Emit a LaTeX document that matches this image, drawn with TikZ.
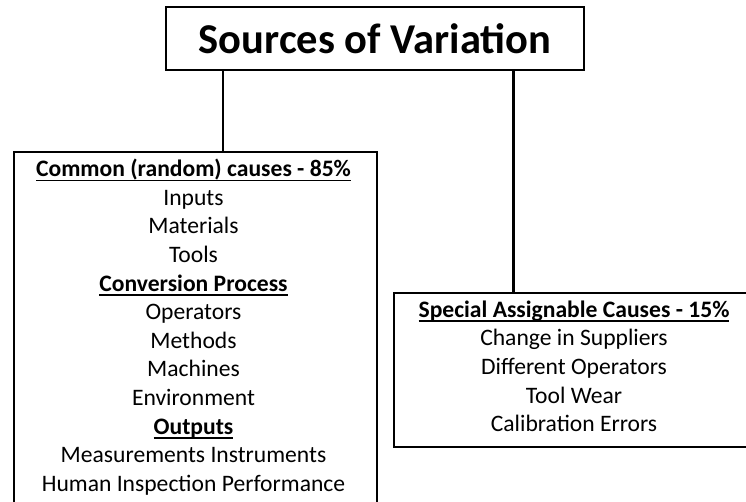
\documentclass[tikz,border=0pt]{standalone}
\usepackage{fontspec}
\setmainfont{Carlito}
\usetikzlibrary{positioning}

\newcommand{\hdr}[1]{\setbox0\hbox{\bfseries #1}\rlap{\rule[-4.5bp]{\wd0}{1.6bp}}\box0}

\tikzset{
	box/.style={draw, line width=2.4bp, rectangle, inner sep=0pt},
	list/.style={align=center, inner sep=0pt, font=\fontsize{23.6bp}{28.6bp}\selectfont}
}

\begin{document}
\begin{tikzpicture}[x=1bp, y=-1bp]
	\clip (0,0) rectangle (746,502);

	\node[box, minimum width=418bp, minimum height=63bp,
		font=\bfseries\fontsize{42.5bp}{48bp}\selectfont] (title) at (375,38.5) {Sources of Variation};

	% the two groups of causes
	\node[box, anchor=north west, minimum width=363bp, minimum height=400bp] (common) at (13,151) {};
	\node[box, anchor=north west, minimum width=400bp, minimum height=153.5bp] (special) at (392.7,292) {};

	\node[list, anchor=north] (commonlist) at (193.5,159) {
		\hdr{Common (random) causes - 85\%}\\
		Inputs\\ Materials\\ Tools\\
		\hdr{Conversion Process}\\
		Operators\\ Methods\\ Machines\\ Environment\\
		\hdr{Outputs}\\
		Measurements Instruments\\ Human Inspection Performance};

	\node[list, anchor=north] (speciallist) at (574,300.5) {
		\hdr{Special Assignable Causes - 15\%}\\
		Change in Suppliers\\ Different Operators\\ Tool Wear\\ Calibration Errors};

	\coordinate (lc) at (222.7,0);
	\coordinate (rc) at (513.5,0);
	\draw[line width=2.4bp] (lc |- title.south) -- (lc |- common.north)
		(rc |- title.south) -- (rc |- special.north);
\end{tikzpicture}
\end{document}
